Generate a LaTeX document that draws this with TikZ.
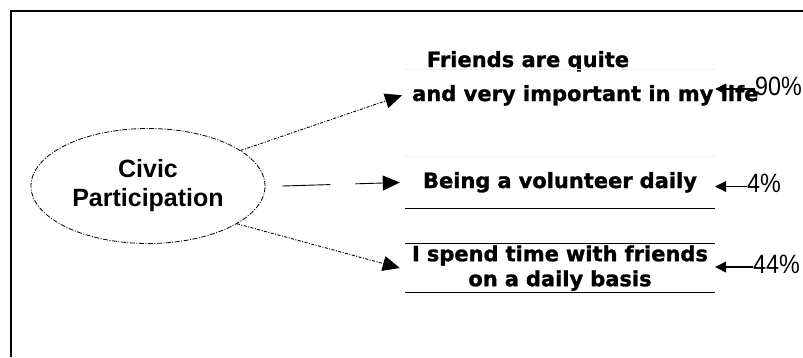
\documentclass[tikz,border=0pt]{standalone}
\usepackage{fontspec}
\setmainfont{DejaVu Sans}[BoldFeatures={FakeBold=1.2}]
\newfontfamily\arialfont{Liberation Sans}
\newfontfamily\pctfont{Liberation Sans}[FakeStretch=0.88]
\usetikzlibrary{arrows.meta, shapes.geometric, positioning}

\begin{document}
\begin{tikzpicture}[x=1pt, y=-1pt,
    itemtxt/.style = {inner sep=0pt, font=\fontsize{21}{25}\selectfont\bfseries},
    itembox/.style = {text width=310pt, align=center, inner xsep=0pt, font=\fontsize{21}{25}\selectfont\bfseries},
    pct/.style = {anchor=west, inner sep=0pt, font=\pctfont\fontsize{26.5}{30}\selectfont},
    link/.style = {line width=0.9pt, dash pattern=on 3pt off 1.5pt on 1pt off 1.5pt, -{Triangle[length=17pt, width=15pt]}},
    pctarrow/.style = {line width=1.2pt, -{Triangle[length=11pt, width=11pt]}},
    rule/.style = {line width=1pt},
    faint/.style = {line width=0.8pt, black!6}]
  \useasboundingbox (0,0) rectangle (803,357);
  % frame
  \draw[line width=2.2pt] (11,357) -- (11,11) -- (803,11);

  \node[ellipse, draw, line width=0.8pt, dash pattern=on 5pt off 1.5pt on 1pt off 1.5pt,
        minimum width=234pt, minimum height=115pt, align=center,
        font=\arialfont\bfseries\fontsize{25}{29}\selectfont] (civic) at (148,186) {Civic\\Participation};

  % items
  \node[itemtxt, anchor=base] (friendsA) at (528,67) {Friends are quite};
  \node[itemtxt, anchor=base west] (friendsB) at (412,101) {and very important in my life};
  \node[itembox, inner ysep=15pt, text height=16pt, text depth=5pt] (volunteer) at (560,182.5) {Being a volunteer daily};
  \node[itembox, inner ysep=2pt] (friends) at (560,268) {I spend time with friends\\on a daily basis};

  \draw[faint] (405,69) -- (715,69);
  \draw[faint] (volunteer.north west) -- (volunteer.north east);
  \draw[rule] (volunteer.south west) -- (volunteer.south east);
  \draw[rule] (friends.north west) -- (friends.north east);
  \draw[rule] (friends.south west) -- (friends.south east);

  % links
  \draw[link] (civic.21) -- ([xshift=-10pt]friendsB.west);
  \draw[link, dash pattern=on 48pt off 25pt] ([xshift=17pt]civic.east) -- ([xshift=-5pt]volunteer.west);
  \draw[link] (civic.-23) -- ([xshift=-5pt]friends.west);

  % percentages
  \node[pct] (p90) at (755,86) {90\%};
  \node[pct] (p4) at (747,183.5) {4\%};
  \node[pct] (p44) at (753,264) {44\%};
  \foreach \p in {p90,p4,p44}
    \draw[pctarrow] ([yshift=-3pt]\p.west) -- ([yshift=-3pt]\p.west -| volunteer.east);
\end{tikzpicture}
\end{document}
